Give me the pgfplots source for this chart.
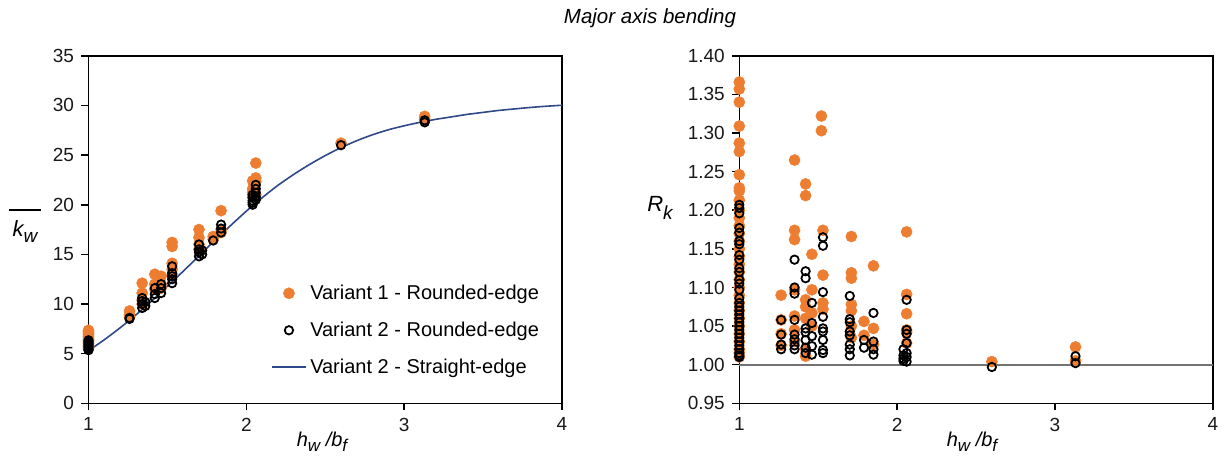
\documentclass[border=0pt]{standalone}
\usepackage{pgfplots}
\pgfplotsset{compat=1.18}
\usepackage{fontspec}
\setmainfont{Liberation Sans}
\definecolor{vorange}{RGB}{237,125,49}
\definecolor{vblue}{RGB}{47,72,135}
\begin{document}
\begin{tikzpicture}
\path[use as bounding box] (0pt,0pt) rectangle (1231pt,459pt);
\pgfplotsset{
  myax/.style={
    scale only axis, width=473.5pt, height=347.5pt, anchor=south west,
    xmin=1, xmax=4, xtick={1,2,3,4},
    tick align=outside, major tick length=7pt,
    xtick pos=bottom, ytick pos=left,
    axis line style={line width=1.6pt, black},
    every tick/.style={line width=1.6pt, black},
    tick label style={font=\fontsize{19}{20}\selectfont, black!90},
    /pgf/number format/assume math mode=true,
    xticklabel style={yshift=-4pt},
    yticklabel style={xshift=-4pt},
    clip=false,
  },
  orng/.style={only marks, mark=*, mark size=5.6pt, color=vorange, mark options={draw=none, fill=vorange}},
  blk/.style={only marks, mark=o, mark size=4.2pt, mark options={line width=1.8pt, draw=black, fill=white, fill opacity=0}, color=black},
}
\begin{axis}[myax, at={(88.5pt,55.7pt)}, ymin=0, ymax=35, ytick={0,5,...,35},
  legend style={draw=none, fill=none, at={(0.379,0.356)}, anchor=north west, font=\fontsize{20}{24}\selectfont, row sep=14pt, legend cell align=left, nodes={inner sep=3.5pt}},
  legend image code/.code={\draw[mark repeat=2,mark phase=2,#1] plot coordinates {(0pt,0pt) (17pt,0pt) (34pt,0pt)};}
]
\addplot[orng] coordinates {
(1,7.35)(1,7.2)(1,7.05)(1,6.9)(1,6.75)(1,6.6)(1,6.45)(1,6.3)(1,6.15)(1,6.0)(1,5.85)(1,5.7)(1,5.55)
(1.26,9.3)(1.26,8.9)(1.26,8.7)
(1.34,12.1)(1.34,11.1)(1.34,10.4)(1.34,10.0)
(1.42,13.0)(1.42,12.0)(1.42,11.5)
(1.46,12.8)(1.46,12.0)(1.46,11.6)
(1.53,16.2)(1.53,15.8)(1.53,14.1)(1.53,13.5)(1.53,12.9)
(1.70,17.5)(1.70,16.7)(1.70,16.0)(1.70,15.5)
(1.79,16.8)(1.79,16.5)
(1.84,19.4)(1.84,17.5)(1.84,17.2)
(2.04,22.4)(2.04,21.6)(2.04,21.2)(2.04,20.8)
(2.06,24.2)(2.06,22.7)(2.06,22.3)(2.06,21.0)
(2.6,26.2)
(3.13,28.9)(3.13,28.6)
};
\addlegendentry{Variant 1 - Rounded-edge}
\addplot[blk] coordinates {
(1,6.35)(1,6.2)(1,6.05)(1,5.9)(1,5.75)(1,5.6)(1,5.45)(1,5.35)
(1.26,8.6)(1.26,8.5)
(1.34,10.6)(1.34,10.3)(1.34,10.0)(1.34,9.6)(1.36,10.2)(1.36,9.8)
(1.42,11.6)(1.42,11.0)(1.42,10.6)
(1.46,12.0)(1.46,11.6)(1.46,11.1)
(1.53,13.8)(1.53,13.1)(1.53,12.8)(1.53,12.5)(1.53,12.1)
(1.70,16.0)(1.70,15.5)(1.70,15.2)(1.70,14.8)(1.72,15.4)(1.72,15.0)
(1.79,16.4)
(1.84,18.0)(1.84,17.6)(1.84,17.2)
(2.04,21.0)(2.04,20.7)(2.04,20.4)(2.04,20.2)(2.04,20.0)
(2.06,22.0)(2.06,21.6)(2.06,21.2)(2.06,20.8)(2.06,20.5)
(2.6,26.0)
(3.13,28.5)(3.13,28.3)
};
\addlegendentry{Variant 2 - Rounded-edge}
\addplot[vblue, line width=1.6pt, smooth, mark=none] coordinates {
(1.0,5.3)(1.1,6.4)(1.2,7.6)(1.3,8.9)(1.4,10.3)(1.5,11.8)(1.6,13.3)(1.7,14.85)(1.8,16.4)(1.9,17.9)
(2.0,19.35)(2.1,20.7)(2.2,21.95)(2.3,23.05)(2.4,24.05)(2.5,24.95)(2.6,25.75)(2.7,26.45)(2.8,27.05)(2.9,27.55)
(3.0,27.95)(3.1,28.3)(3.2,28.6)(3.3,28.85)(3.4,29.1)(3.5,29.3)(3.6,29.5)(3.7,29.65)(3.8,29.8)(3.9,29.92)(4.0,30.02)
};
\addlegendentry{Variant 2 - Straight-edge}
\end{axis}
\begin{axis}[myax, at={(739.3pt,55.7pt)}, ymin=0.95, ymax=1.40, ytick={0.95,1.00,...,1.40},
  yticklabel style={/pgf/number format/fixed, /pgf/number format/fixed zerofill, /pgf/number format/precision=2}]
\addplot[black!55, line width=1.8pt, forget plot] coordinates {(1,1) (4,1)};
\addplot[orng] coordinates {
(1,1.366)(1,1.357)(1,1.340)(1,1.309)(1,1.287)(1,1.276)(1,1.246)(1,1.229)(1,1.225)(1,1.213)(1,1.200)(1,1.19)(1,1.18)(1,1.17)(1,1.16)(1,1.15)(1,1.14)(1,1.13)(1,1.12)(1,1.11)(1,1.10)(1,1.09)(1,1.08)(1,1.07)(1,1.06)(1,1.05)(1,1.04)(1,1.03)(1,1.02)(1,1.015)(1,1.01)
(1.265,1.090)(1.265,1.058)(1.265,1.040)(1.265,1.025)
(1.35,1.265)(1.35,1.174)(1.35,1.162)(1.35,1.097)(1.35,1.063)(1.35,1.045)(1.35,1.030)
(1.42,1.234)(1.42,1.219)(1.42,1.084)(1.42,1.075)(1.42,1.060)(1.42,1.011)(1.42,1.02)
(1.46,1.143)(1.46,1.097)(1.46,1.067)(1.46,1.050)
(1.52,1.322)(1.52,1.303)(1.53,1.174)(1.53,1.116)(1.53,1.080)(1.53,1.072)
(1.71,1.166)(1.71,1.119)(1.71,1.112)(1.71,1.078)(1.71,1.070)(1.71,1.050)(1.71,1.035)
(1.79,1.056)(1.79,1.038)
(1.85,1.128)(1.85,1.047)(1.85,1.026)
(2.06,1.172)(2.06,1.091)(2.06,1.066)(2.06,1.045)(2.06,1.028)(2.06,1.042)
(2.6,1.004)
(3.13,1.023)(3.13,1.005)
};
\addplot[blk] coordinates {
(1,1.207)(1,1.203)(1,1.196)(1,1.177)(1,1.171)(1,1.160)(1,1.156)(1,1.142)(1,1.136)(1,1.125)(1,1.120)(1,1.110)(1,1.105)(1,1.097)(1,1.086)(1,1.080)(1,1.075)(1,1.070)(1,1.065)(1,1.060)(1,1.055)(1,1.050)(1,1.045)(1,1.040)(1,1.035)(1,1.030)(1,1.025)(1,1.020)(1,1.015)(1,1.012)(1,1.010)
(1.265,1.058)(1.265,1.039)(1.265,1.026)(1.265,1.020)
(1.35,1.136)(1.35,1.100)(1.35,1.092)(1.35,1.058)(1.35,1.039)(1.35,1.033)(1.35,1.025)(1.35,1.020)
(1.42,1.121)(1.42,1.112)(1.42,1.047)(1.42,1.042)(1.42,1.032)(1.42,1.022)(1.42,1.015)
(1.46,1.080)(1.46,1.054)(1.46,1.037)(1.46,1.024)(1.46,1.013)
(1.53,1.165)(1.53,1.154)(1.53,1.094)(1.53,1.062)(1.53,1.047)(1.53,1.043)(1.53,1.032)(1.53,1.019)(1.53,1.015)
(1.70,1.089)(1.70,1.059)(1.70,1.055)(1.70,1.043)(1.70,1.038)(1.70,1.026)(1.70,1.020)(1.70,1.012)
(1.79,1.032)(1.79,1.022)
(1.85,1.067)(1.85,1.030)(1.85,1.020)(1.85,1.013)
(2.04,1.020)(2.04,1.012)(2.04,1.008)(2.04,1.005)
(2.06,1.084)(2.06,1.045)(2.06,1.040)(2.06,1.028)(2.06,1.015)(2.06,1.010)(2.06,1.004)
(2.6,0.997)
(3.13,1.011)(3.13,1.002)
};
\end{axis}
% titles and axis labels
\node[font=\fontsize{20.5}{22}\selectfont\itshape] at (650pt,441pt) {Major axis bending};
\node[font=\fontsize{22}{22}\selectfont\itshape, align=center, inner sep=0pt] at (25pt,233pt) {\rule{32pt}{1.3pt}\\[4pt]k{\fontsize{19}{19}\selectfont\raisebox{-6pt}{w}}};
\node[font=\fontsize{22}{22}\selectfont\itshape, inner sep=0pt] at (660pt,251pt) {R{\fontsize{19}{19}\selectfont\raisebox{-8pt}{k}}};
\node[font=\fontsize{20}{20}\selectfont\itshape, inner sep=0pt] at (322pt,17pt) {h{\fontsize{17}{17}\selectfont\raisebox{-5pt}{w}} /b{\fontsize{17}{17}\selectfont\raisebox{-5pt}{f}}};
\node[font=\fontsize{20}{20}\selectfont\itshape, inner sep=0pt] at (972pt,17pt) {h{\fontsize{17}{17}\selectfont\raisebox{-5pt}{w}} /b{\fontsize{17}{17}\selectfont\raisebox{-5pt}{f}}};
\end{tikzpicture}
\end{document}
